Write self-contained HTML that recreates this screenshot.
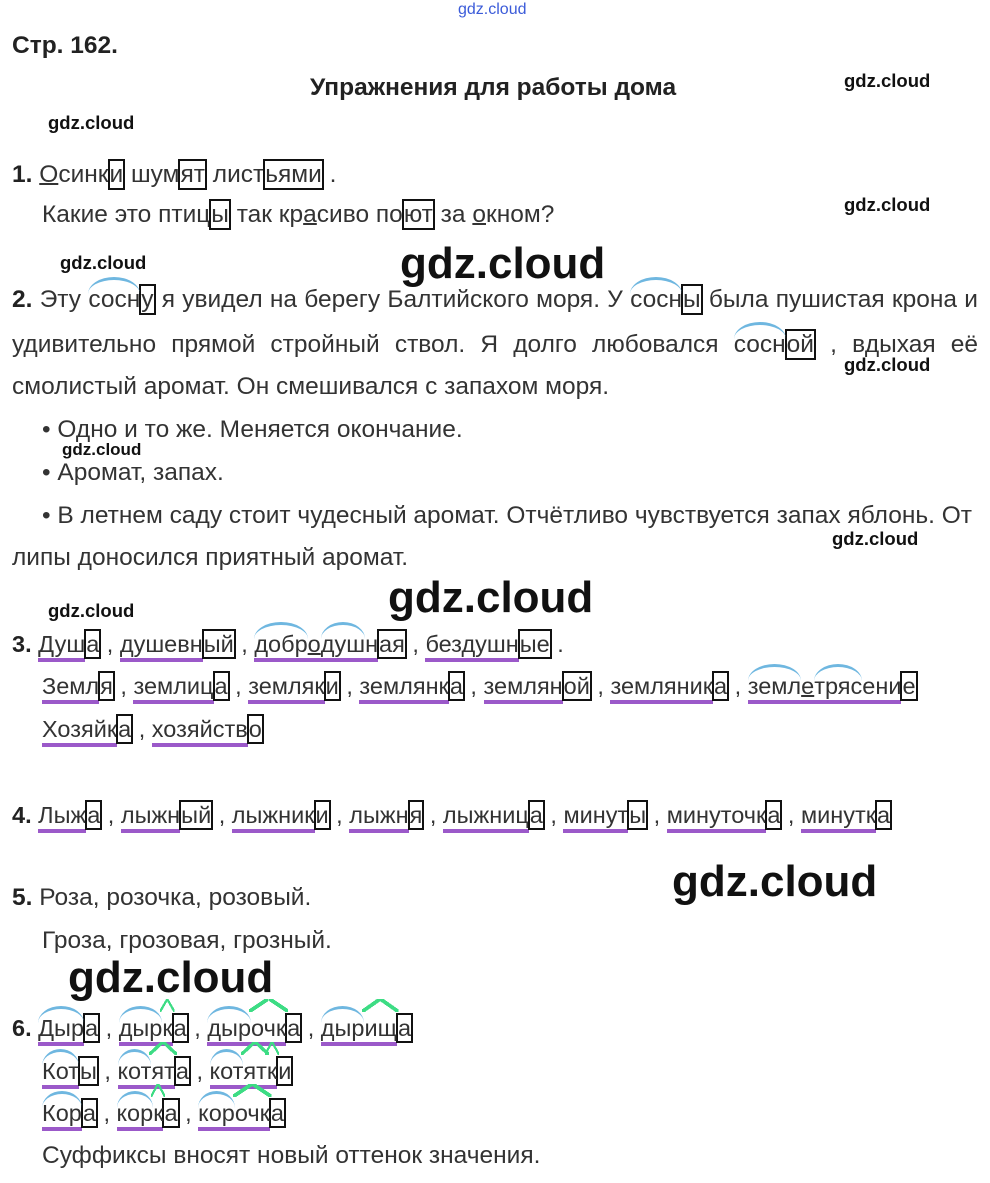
<!DOCTYPE html>
<html><head><meta charset="utf-8"><style>
body{margin:0;background:#fff;width:990px;height:1183px;position:relative;overflow:hidden;font-family:"Liberation Sans",Arial,sans-serif;color:#333;}
.l{position:absolute;font-size:24.5px;line-height:28px;white-space:nowrap;}
.m{font-size:23.5px;}
.j{position:absolute;left:12px;width:966px;font-size:24.5px;line-height:28px;text-align:justify;text-align-last:justify;white-space:nowrap;}
b{color:#222}
.bx{border:2px solid #111;padding:0;margin:0 -1px;}
.u{border-bottom:4px solid #9b59c9;padding-bottom:1px;}
.a{position:relative;}
.a::before{content:"";position:absolute;left:0;right:0;top:-9px;height:14px;border-top:3px solid #6fb7e0;border-radius:50% 50% 0 0/100% 100% 0 0;}
.s{position:relative;}
.s::after{content:"";position:absolute;left:-2px;right:-2px;top:-16px;height:13px;background:linear-gradient(to top left,transparent 42%,#3ddc84 42%,#3ddc84 60%,transparent 60%) left/50% 100% no-repeat,linear-gradient(to top right,transparent 42%,#3ddc84 42%,#3ddc84 60%,transparent 60%) right/50% 100% no-repeat;}
.d{text-decoration:underline;text-decoration-thickness:2px;}
.w{position:absolute;font-family:"Liberation Sans",sans-serif;font-weight:bold;color:#111;line-height:1;}
.ws{font-size:18.5px;}
.wb{font-size:44px;}
</style></head><body>
<div class="w" style="left:458px;top:2px;font-size:16px;color:#3b5bd9;font-weight:normal">gdz.cloud</div>
<div class="l" style="left:12px;top:32px;font-weight:bold;color:#222">Стр. 162.</div>
<div class="l" style="left:310px;top:74px;font-weight:bold;color:#222">Упражнения для работы дома</div>
<div class="w ws" style="left:844px;top:72px">gdz.cloud</div>
<div class="w ws" style="left:48px;top:114px">gdz.cloud</div>
<div class="l" style="left:12px;top:161px"><b>1.</b> <span class="d">О</span>синк<span class="bx">и</span> шум<span class="bx">ят</span> лист<span class="bx">ьями</span> .</div>
<div class="l" style="left:42px;top:201px">Какие это птиц<span class="bx">ы</span> так кр<span class="d">а</span>сиво по<span class="bx">ют</span> за <span class="d">о</span>кном?</div>
<div class="w ws" style="left:844px;top:196px">gdz.cloud</div>
<div class="w ws" style="left:60px;top:254px">gdz.cloud</div>
<div class="w wb" style="left:400px;top:242px">gdz.cloud</div>
<div class="j" style="top:286px"><b>2.</b> Эту <span class="a">сосн</span><span class="bx">у</span> я увидел на берегу Балтийского моря. У <span class="a">сосн</span><span class="bx">ы</span> была пушистая крона и</div>
<div class="j" style="top:331px">удивительно прямой стройный ствол. Я долго любовался <span class="a">сосн</span><span class="bx">ой</span> , вдыхая её</div>
<div class="l" style="left:12px;top:373px">смолистый аромат. Он смешивался с запахом моря.</div>
<div class="w ws" style="left:844px;top:356px">gdz.cloud</div>
<div class="l" style="left:42px;top:416px">• Одно и то же. Меняется окончание.</div>
<div class="w" style="left:62px;top:441px;font-size:17px">gdz.cloud</div>
<div class="l" style="left:42px;top:459px">• Аромат, запах.</div>
<div class="l" style="left:42px;top:502px">• В летнем саду стоит чудесный аромат. Отчётливо чувствуется запах яблонь. От</div>
<div class="l" style="left:12px;top:544px">липы доносился приятный аромат.</div>
<div class="w ws" style="left:832px;top:530px">gdz.cloud</div>
<div class="w ws" style="left:48px;top:602px">gdz.cloud</div>
<div class="w wb" style="left:388px;top:576px">gdz.cloud</div>
<div class="l m" style="left:12px;top:630px"><b>3.</b> <span class="u">Душ</span><span class="bx">а</span> , <span class="u">душевн</span><span class="bx">ый</span> , <span class="u"><span class="a">добр</span><span class="d">о</span><span class="a">душ</span>н</span><span class="bx">ая</span> , <span class="u">бездушн</span><span class="bx">ые</span> .</div>
<div class="l m" style="left:42px;top:672px"><span class="u">Земл</span><span class="bx">я</span> , <span class="u">землиц</span><span class="bx">а</span> , <span class="u">земляк</span><span class="bx">и</span> , <span class="u">землянк</span><span class="bx">а</span> , <span class="u">землян</span><span class="bx">ой</span> , <span class="u">земляник</span><span class="bx">а</span> , <span class="u"><span class="a">земл</span><span class="d">е</span><span class="a">тряс</span>ени</span><span class="bx">е</span></div>
<div class="l m" style="left:42px;top:715px"><span class="u">Хозяйк</span><span class="bx">а</span> , <span class="u">хозяйств</span><span class="bx">о</span></div>
<div class="l m" style="left:12px;top:801px"><b>4.</b> <span class="u">Лыж</span><span class="bx">а</span> , <span class="u">лыжн</span><span class="bx">ый</span> , <span class="u">лыжник</span><span class="bx">и</span> , <span class="u">лыжн</span><span class="bx">я</span> , <span class="u">лыжниц</span><span class="bx">а</span> , <span class="u">минут</span><span class="bx">ы</span> , <span class="u">минуточк</span><span class="bx">а</span> , <span class="u">минутк</span><span class="bx">а</span></div>
<div class="w wb" style="left:672px;top:860px">gdz.cloud</div>
<div class="l" style="left:12px;top:884px"><b>5.</b> Роза, розочка, розовый.</div>
<div class="l" style="left:42px;top:927px">Гроза, грозовая, грозный.</div>
<div class="w wb" style="left:68px;top:956px">gdz.cloud</div>
<div class="l m" style="left:12px;top:1014px"><b>6.</b> <span class="u"><span class="a">Дыр</span></span><span class="bx">а</span> , <span class="u"><span class="a">дыр</span><span class="s">к</span></span><span class="bx">а</span> , <span class="u"><span class="a">дыр</span><span class="s">очк</span></span><span class="bx">а</span> , <span class="u"><span class="a">дыр</span><span class="s">ищ</span></span><span class="bx">а</span></div>
<div class="l m" style="left:42px;top:1057px"><span class="u"><span class="a">Кот</span></span><span class="bx">ы</span> , <span class="u"><span class="a">кот</span><span class="s">ят</span></span><span class="bx">а</span> , <span class="u"><span class="a">кот</span><span class="s">ят</span><span class="s">к</span></span><span class="bx">и</span></div>
<div class="l m" style="left:42px;top:1099px"><span class="u"><span class="a">Кор</span></span><span class="bx">а</span> , <span class="u"><span class="a">кор</span><span class="s">к</span></span><span class="bx">а</span> , <span class="u"><span class="a">кор</span><span class="s">очк</span></span><span class="bx">а</span></div>
<div class="l" style="left:42px;top:1142px">Суффиксы вносят новый оттенок значения.</div>
</body></html>
